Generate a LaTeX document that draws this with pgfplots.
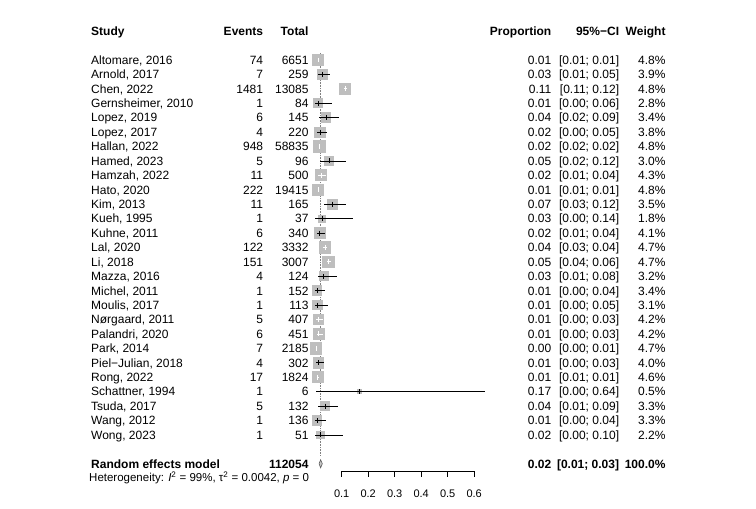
\documentclass[border=0pt]{standalone}
\usepackage{pgfplots}
\pgfplotsset{compat=1.18}
\usepackage{pgfplotstable}
\usepackage{fontspec}
\setmainfont{Liberation Sans}
\definecolor{sqgray}{HTML}{BEBEBE}

% studies whose CI lies inside the square (white lines)
\pgfplotstableread{
r  est     lo     hi     w
1  0.01113 0.0087 0.0139 4.8
3  0.11318 0.1078 0.1188 4.8
7  0.01611 0.0151 0.0172 4.8
9  0.02200 0.0110 0.0390 4.3
10 0.01143 0.0100 0.0130 4.8
14 0.03661 0.0305 0.0436 4.7
15 0.05022 0.0427 0.0586 4.7
19 0.01229 0.0040 0.0284 4.2
20 0.01330 0.0049 0.0287 4.2
21 0.00320 0.0013 0.0066 4.7
23 0.00932 0.0054 0.0149 4.6
}\inside
% studies whose CI extends beyond the square (black lines)
\pgfplotstableread{
r  est     lo     hi     w
2  0.02703 0.0109 0.0549 3.9
4  0.01190 0.0003 0.0646 2.8
5  0.04138 0.0153 0.0879 3.4
6  0.01818 0.0050 0.0459 3.8
8  0.05208 0.0171 0.1174 3.0
11 0.06667 0.0337 0.1163 3.5
12 0.02703 0.0007 0.1416 1.8
13 0.01765 0.0065 0.0380 4.1
16 0.03226 0.0089 0.0805 3.2
17 0.00658 0.0002 0.0361 3.4
18 0.00885 0.0002 0.0483 3.1
22 0.01325 0.0036 0.0336 4.0
24 0.16667 0.0042 0.6412 0.5
25 0.03788 0.0124 0.0862 3.3
26 0.00735 0.0002 0.0403 3.3
27 0.01961 0.0005 0.1045 2.2
}\outside

\newcommand\rowy[1]{{60+(#1-1)*14.42+4.3}}
\newcommand\trow[7]{%
  \node[anchor=base west] at (91,\rowy{#1}) {#2};
  \node[anchor=base east] at (263.3,\rowy{#1}) {#3};
  \node[anchor=base east] at (308.7,\rowy{#1}) {#4};
  \node[anchor=base east] at (551.5,\rowy{#1}) {#5};
  \node[anchor=base east] at (619.3,\rowy{#1}) {#6};
  \node[anchor=base east] at (665.7,\rowy{#1}) {#7\%};
}

\begin{document}
\fontsize{12bp}{14bp}\selectfont
\begin{tikzpicture}
\begin{axis}[
  scale only axis, width=756bp, height=509bp,
  xmin=-1.18943, xmax=1.66340,
  ymin=-3.1609, ymax=32.137, y dir=reverse,
  hide axis, clip=false, clip marker paths=true,
  sq/.style={scatter, only marks, mark=square*, color=sqgray,
    mark options={draw=sqgray, fill=sqgray, line width=0pt},
    scatter/use mapped color={draw=sqgray, fill=sqgray},
    visualization depends on={2.62*sqrt(\thisrow{w}) \as \msz},
    scatter/@pre marker code/.append style={/tikz/mark size=\msz}},
  ci/.style={only marks, mark=|, mark size=2.5, color=#1, mark options={#1, line width=0.8bp},
    error bars/.cd, x dir=both, x explicit, error mark=none,
    error bar style={#1, line width=0.8bp}},
]
% reference line at pooled estimate
\addplot[gray, densely dotted, line width=0.6bp] coordinates {(0.0205,0.5) (0.0205,28.5)};
% squares
\addplot[sq] table[x=est, y=r] {\inside};
\addplot[sq] table[x=est, y=r] {\outside};
% confidence intervals
\addplot[ci=white] table[x=est, y=r,
  x error plus expr=\thisrow{hi}-\thisrow{est},
  x error minus expr=\thisrow{est}-\thisrow{lo}] {\inside};
\addplot[ci=black] table[x=est, y=r,
  x error plus expr=\thisrow{hi}-\thisrow{est},
  x error minus expr=\thisrow{est}-\thisrow{lo}] {\outside};
% pooled diamond
\addplot[fill=gray!45, draw=gray!70!black, line width=0.6bp] coordinates
  {(0.0145,29) (0.0205,28.72) (0.0268,29) (0.0205,29.28) (0.0145,29)};
% x axis
\addplot[black, line width=0.8bp] coordinates {(0.1,29.9) (0.1,29.55) (0.6,29.55) (0.6,29.9)};
\addplot[black, line width=0.8bp] coordinates {(0.2,29.55) (0.2,29.9)};
\addplot[black, line width=0.8bp] coordinates {(0.3,29.55) (0.3,29.9)};
\addplot[black, line width=0.8bp] coordinates {(0.4,29.55) (0.4,29.9)};
\addplot[black, line width=0.8bp] coordinates {(0.5,29.55) (0.5,29.9)};
\end{axis}
\pgfresetboundingbox
\path (current axis.south west) rectangle (current axis.north east);
\begin{scope}[shift={(current axis.north west)}, x=1bp, y=-1bp, every node/.style={inner sep=0pt}]
\node[anchor=base west] at (91,\rowy{-1}) {\bfseries Study};
\node[anchor=base east] at (263.3,\rowy{-1}) {\bfseries Events};
\node[anchor=base east] at (308.7,\rowy{-1}) {\bfseries Total};
\node[anchor=base east] at (551.5,\rowy{-1}) {\bfseries Proportion};
\node[anchor=base east] at (619.3,\rowy{-1}) {\bfseries 95\%−CI};
\node[anchor=base east] at (665.7,\rowy{-1}) {\bfseries Weight};
\trow{1}{Altomare, 2016}{74}{6651}{0.01}{[0.01; 0.01]}{4.8}
\trow{2}{Arnold, 2017}{7}{259}{0.03}{[0.01; 0.05]}{3.9}
\trow{3}{Chen, 2022}{1481}{13085}{0.11}{[0.11; 0.12]}{4.8}
\trow{4}{Gernsheimer, 2010}{1}{84}{0.01}{[0.00; 0.06]}{2.8}
\trow{5}{Lopez, 2019}{6}{145}{0.04}{[0.02; 0.09]}{3.4}
\trow{6}{Lopez, 2017}{4}{220}{0.02}{[0.00; 0.05]}{3.8}
\trow{7}{Hallan, 2022}{948}{58835}{0.02}{[0.02; 0.02]}{4.8}
\trow{8}{Hamed, 2023}{5}{96}{0.05}{[0.02; 0.12]}{3.0}
\trow{9}{Hamzah, 2022}{11}{500}{0.02}{[0.01; 0.04]}{4.3}
\trow{10}{Hato, 2020}{222}{19415}{0.01}{[0.01; 0.01]}{4.8}
\trow{11}{Kim, 2013}{11}{165}{0.07}{[0.03; 0.12]}{3.5}
\trow{12}{Kueh, 1995}{1}{37}{0.03}{[0.00; 0.14]}{1.8}
\trow{13}{Kuhne, 2011}{6}{340}{0.02}{[0.01; 0.04]}{4.1}
\trow{14}{Lal, 2020}{122}{3332}{0.04}{[0.03; 0.04]}{4.7}
\trow{15}{Li, 2018}{151}{3007}{0.05}{[0.04; 0.06]}{4.7}
\trow{16}{Mazza, 2016}{4}{124}{0.03}{[0.01; 0.08]}{3.2}
\trow{17}{Michel, 2011}{1}{152}{0.01}{[0.00; 0.04]}{3.4}
\trow{18}{Moulis, 2017}{1}{113}{0.01}{[0.00; 0.05]}{3.1}
\trow{19}{Nørgaard, 2011}{5}{407}{0.01}{[0.00; 0.03]}{4.2}
\trow{20}{Palandri, 2020}{6}{451}{0.01}{[0.00; 0.03]}{4.2}
\trow{21}{Park, 2014}{7}{2185}{0.00}{[0.00; 0.01]}{4.7}
\trow{22}{Piel−Julian, 2018}{4}{302}{0.01}{[0.00; 0.03]}{4.0}
\trow{23}{Rong, 2022}{17}{1824}{0.01}{[0.01; 0.01]}{4.6}
\trow{24}{Schattner, 1994}{1}{6}{0.17}{[0.00; 0.64]}{0.5}
\trow{25}{Tsuda, 2017}{5}{132}{0.04}{[0.01; 0.09]}{3.3}
\trow{26}{Wang, 2012}{1}{136}{0.01}{[0.00; 0.04]}{3.3}
\trow{27}{Wong, 2023}{1}{51}{0.02}{[0.00; 0.10]}{2.2}
\node[anchor=base west] at (91,\rowy{29}) {\bfseries Random effects model};
\node[anchor=base east] at (308.7,\rowy{29}) {\bfseries 112054};
\node[anchor=base east] at (551.5,\rowy{29}) {\bfseries 0.02};
\node[anchor=base east] at (619.3,\rowy{29}) {\bfseries [0.01; 0.03]};
\node[anchor=base east] at (665.7,\rowy{29}) {\bfseries 100.0\%};
\node[anchor=base west] at (89,{478+4}) {\fontsize{11.5bp}{13bp}\selectfont Heterogeneity: \textit{I}\textsuperscript{2} = 99\%, τ\textsuperscript{2} = 0.0042, \textit{p} = 0};
\foreach \v/\px in {0.1/341.7,0.2/368.2,0.3/394.7,0.4/421.2,0.5/447.7,0.6/474.2}
  \node[anchor=base] at (\px,{493.3+4}) {\fontsize{11bp}{13bp}\selectfont \v};
\end{scope}
\end{tikzpicture}
\end{document}
